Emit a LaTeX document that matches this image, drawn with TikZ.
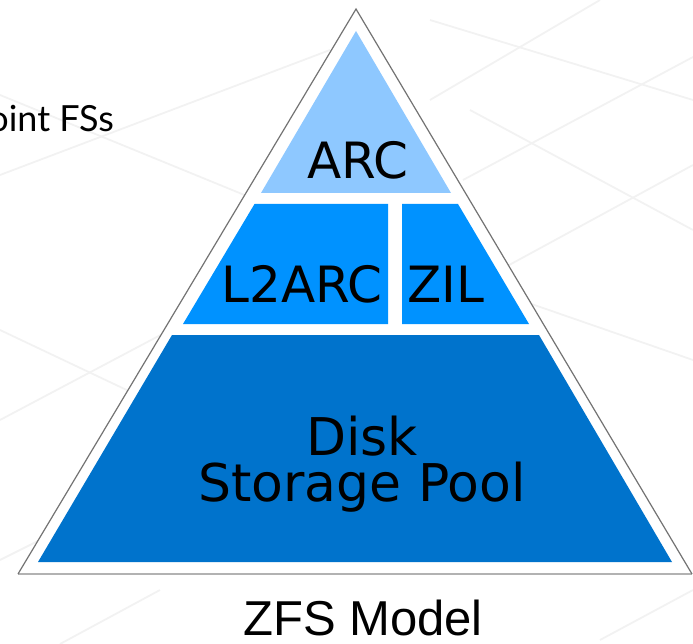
\documentclass[tikz,border=0pt]{standalone}
\usepackage{fontspec}
\setmainfont{DejaVu Sans}
\newfontfamily\captionfont{Liberation Sans}
\newfontfamily\slidefont{Lato}
\usepackage{tikz}

\definecolor{arcblue}{RGB}{142,200,255}
\definecolor{cacheblue}{RGB}{0,146,255}
\definecolor{poolblue}{RGB}{0,115,204}

\begin{document}
\begin{tikzpicture}[x=1pt,y=-1pt,
                    band label/.style={anchor=base,inner sep=0pt,font=\fontsize{50}{46}\selectfont},
                    grid line/.style={black!5,line width=1.8pt}]
  \useasboundingbox (0,0) rectangle (693,644);

  % faint slide background
  \draw[grid line] (0,175) -- (330,50);
  \draw[grid line] (0,95) -- (330,230);
  \draw[grid line] (0,420) -- (170,330);
  \draw[grid line] (0,330) -- (190,420);
  \draw[grid line] (0,560) -- (60,530);
  \draw[grid line] (60,644) -- (160,590);
  \draw[grid line] (430,100) -- (600,0);
  \draw[grid line] (463,180) -- (693,57);
  \draw[grid line] (500,270) -- (693,165);
  \draw[grid line] (430,20) -- (693,100);
  \draw[grid line] (470,110) -- (693,230);
  \draw[grid line] (520,300) -- (693,360);
  \draw[grid line] (600,640) -- (693,590);

  % outer pyramid
  \coordinate (top) at (356,9);
  \coordinate (bl) at (18,574);
  \coordinate (br) at (692,574);
  \fill[white] (top) -- (br) -- (bl) -- cycle;
  \draw[gray!60,line width=2.5pt] (bl) -- (br);
  \draw[gray!90!black,line width=1.2pt,line join=miter] (bl) -- (top) -- (br);

  % layers
  \fill[arcblue] (356,31) -- (451,193) -- (261,193) -- cycle;
  \fill[cacheblue] (254.5,204) -- (388,204) -- (388,324) -- (183,324) -- cycle;
  \fill[cacheblue] (402,204) -- (458,204) -- (529,324) -- (402,324) -- cycle;
  \fill[poolblue] (172,335) -- (539,335) -- (672,562) -- (38,562) -- cycle;

  \node[band label] (arc) at (358,179) {ARC};
  \node[band label] (l2arc) at (302,302) {L2ARC};
  \node[band label] (zil) at (446,302) {ZIL};
  \node[band label,align=center,font=\fontsize{52}{46}\selectfont] (pool) at (362,501) {Disk\\Storage Pool};

  \node[anchor=base,inner sep=0pt,font=\captionfont\fontsize{49}{50}\selectfont] (model) at (363,635) {ZFS Model};
  \node[anchor=base east,inner sep=0pt,font=\slidefont\fontsize{36}{38}\selectfont] (fss) at (114,132) {oint FSs};
\end{tikzpicture}
\end{document}
